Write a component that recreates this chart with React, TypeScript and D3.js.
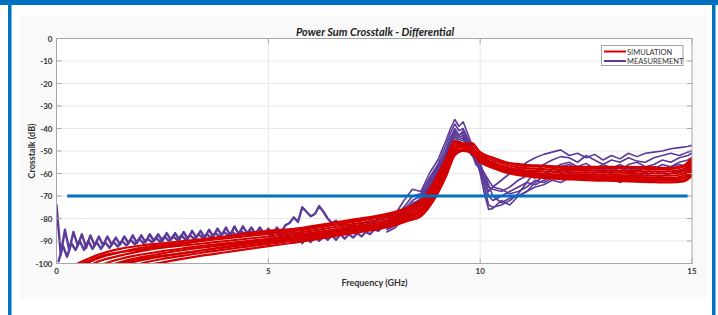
import React from "react";
import * as d3 from "d3";

// ---------------- DATA ----------------
const TITLE = "Power Sum Crosstalk - Differential";
const X_LABEL = "Frequency (GHz)";
const Y_LABEL = "Crosstalk (dB)";
const X_TICKS = [0, 5, 10, 15];
const Y_TICKS = [0, -10, -20, -30, -40, -50, -60, -70, -80, -90, -100];
const LIMIT_DB = -70;
const LIMIT_RANGE = [0.25, 14.9];
const LEGEND = ["SIMULATION", "MEASUREMENT"];

// Simulation (red) frequencies
const SIM_F = [0.5, 1, 1.5, 2, 2.5, 3, 3.5, 4, 4.5, 5, 5.5, 6, 6.5, 7, 7.5, 8, 8.3, 8.6, 8.9, 9.2, 9.4, 9.6, 9.8, 10, 10.3, 10.6, 11, 11.5, 12, 12.5, 13, 13.5, 14, 14.5, 14.8, 15];
const SIM_1 = [-100, -96, -93.5, -92, -91, -90, -89, -88, -87, -86, -85, -83.5, -82, -80.5, -79, -77, -75, -72, -65, -54, -46, -48, -47, -51, -53, -55, -56.5, -57, -57.5, -57.5, -57.5, -57.5, -58, -58, -57, -54];
const SIM_2 = [-102, -97.5, -95, -93, -91.8, -90.8, -89.8, -88.8, -87.8, -86.8, -85.8, -84.5, -83, -81.5, -80, -78, -76, -73, -66, -55, -47, -46.5, -49, -52, -54, -56, -57.5, -58, -58.5, -58.5, -58.7, -58.8, -59, -59, -58, -55];
const SIM_3 = [-104, -99, -96.5, -94.5, -93, -92, -91, -90, -89, -88, -86.8, -85.5, -84, -82.5, -81, -79, -77, -74, -67, -56, -48, -47.5, -48.5, -52.5, -55, -57, -58.5, -59, -59.5, -59.5, -59.5, -59.8, -60, -60, -59, -56];
const SIM_4 = [-106, -101, -98, -96, -94.5, -93.2, -92, -91, -90, -89, -87.8, -86.5, -85, -83.5, -82, -80, -78, -75, -68, -57, -49, -47, -50, -53, -55.5, -57.5, -59, -60, -60.5, -60.5, -60.5, -60.8, -61, -61, -60, -57];
const SIM_5 = [-108, -103, -99.5, -97.2, -95.5, -94, -92.8, -91.6, -90.5, -89.5, -88.5, -87.2, -85.8, -84.3, -82.8, -80.8, -78.8, -76, -69, -58, -50, -48, -49, -53.5, -56, -58, -59.5, -60.5, -61, -61.2, -61.3, -61.5, -61.8, -62, -61, -58];
const SIM_6 = [-110, -105, -101, -98.5, -96.8, -95.3, -94, -92.8, -91.6, -90.5, -89.3, -88, -86.5, -85, -83.5, -81.5, -79.5, -77, -70, -59, -50.5, -49, -48.5, -54, -56.5, -58.5, -60, -61, -61.5, -61.8, -62, -62.2, -62.5, -62.8, -62, -59];
const SIM_7 = [-112, -107, -103, -100, -98, -96.5, -95, -93.7, -92.5, -91.3, -90, -88.7, -87.2, -85.7, -84.2, -82.2, -80.3, -78, -71, -60, -51, -49.5, -50, -54.5, -57, -59, -60.5, -61.5, -62, -62.3, -62.5, -62.8, -63, -63.2, -63, -60];
const SIM_8 = [-114, -109, -105, -101.5, -99.5, -97.8, -96.3, -95, -93.6, -92.3, -91, -89.6, -88, -86.5, -85, -83, -81, -79, -72, -61, -52, -50, -51, -55, -57.5, -59.5, -61, -62, -62.5, -63, -63.2, -63.5, -63.8, -64, -63.5, -61];
const SIM_9 = [-101, -97, -95, -93.8, -92.5, -91.2, -89.5, -88, -86.5, -85.5, -84.8, -84, -82.8, -81.2, -79.5, -77.5, -75.5, -72.5, -64, -53, -45.5, -47, -46.5, -50.5, -53, -55, -56, -56.5, -57, -57, -57, -57, -57.2, -57.5, -56.5, -53];
const SIM_10 = [-109, -104, -100, -97.8, -96.5, -95.5, -94, -92.5, -91, -89.8, -88.8, -87.6, -86.2, -84.8, -83.2, -81, -79, -76.5, -69.5, -58.5, -49.5, -48, -50.5, -53, -56, -58, -59.8, -60.8, -61.3, -61.5, -61.8, -62, -62.3, -62.5, -62, -58];
const SIM_SERIES = [SIM_1, SIM_2, SIM_3, SIM_4, SIM_5, SIM_6, SIM_7, SIM_8, SIM_9, SIM_10];

// Measurement (purple) low-frequency part, 0..8 GHz every 0.1 GHz
const MEAS_LF_F = [0, 0.1, 0.2, 0.3, 0.4, 0.5, 0.6, 0.7, 0.8, 0.9, 1, 1.1, 1.2, 1.3, 1.4, 1.5, 1.6, 1.7, 1.8, 1.9, 2, 2.1, 2.2, 2.3, 2.4, 2.5, 2.6, 2.7, 2.8, 2.9, 3, 3.1, 3.2, 3.3, 3.4, 3.5, 3.6, 3.7, 3.8, 3.9, 4, 4.1, 4.2, 4.3, 4.4, 4.5, 4.6, 4.7, 4.8, 4.9, 5, 5.1, 5.2, 5.3, 5.4, 5.5, 5.6, 5.7, 5.8, 5.9, 6, 6.1, 6.2, 6.3, 6.4, 6.5, 6.6, 6.7, 6.8, 6.9, 7, 7.1, 7.2, 7.3, 7.4, 7.5, 7.6, 7.7, 7.8, 7.9, 8];
const MEAS_LF_A = [-74, -96, -85, -94, -86, -92, -87, -93, -87.5, -92, -88, -92, -88, -91.5, -88.5, -91.5, -88, -91, -87.5, -91, -87.5, -90.5, -87, -90, -87, -90, -86.5, -89.5, -86.5, -89.5, -86, -89, -85.5, -88.5, -85.5, -88.5, -85, -88, -84.5, -87.5, -84, -87.5, -83.5, -87, -83.5, -86.5, -84, -87, -84, -87, -84.5, -87.5, -84, -86.5, -83, -82, -79.5, -81.5, -75, -77, -79, -78, -74.5, -77, -80, -82, -81, -83.5, -82, -84, -82.5, -84, -82, -83, -81, -82, -80, -80.5, -78.5, -79, -77];
// second measurement trace, sampled half a step later (0.05..7.95 GHz)
const MEAS_LF_F2 = [0.05, 0.15, 0.25, 0.35, 0.45, 0.55, 0.65, 0.75, 0.85, 0.95, 1.05, 1.15, 1.25, 1.35, 1.45, 1.55, 1.65, 1.75, 1.85, 1.95, 2.05, 2.15, 2.25, 2.35, 2.45, 2.55, 2.65, 2.75, 2.85, 2.95, 3.05, 3.15, 3.25, 3.35, 3.45, 3.55, 3.65, 3.75, 3.85, 3.95, 4.05, 4.15, 4.25, 4.35, 4.45, 4.55, 4.65, 4.75, 4.85, 4.95, 5.05, 5.15, 5.25, 5.35, 5.45, 5.55, 5.65, 5.75, 5.85, 5.95, 6.05, 6.15, 6.25, 6.35, 6.45, 6.55, 6.65, 6.75, 6.85, 6.95, 7.05, 7.15, 7.25, 7.35, 7.45, 7.55, 7.65, 7.75, 7.85, 7.95];
const MEAS_LF_B = [-99, -92, -97, -91, -94, -90, -94, -90, -93.5, -90.5, -93.5, -90.5, -93, -90.5, -92.5, -90, -92, -89.5, -91.5, -89, -91, -89, -90.5, -88.5, -90.5, -88, -90, -88, -89.5, -87.5, -89.5, -87.5, -89, -87, -88.5, -87, -88.5, -86.5, -88, -86, -87.5, -86, -87.5, -85.5, -87, -85.5, -87, -85.5, -87, -85.5, -87.5, -85.5, -87, -86.5, -88, -86, -88.5, -86.5, -88, -86, -88, -86, -87.5, -86, -87.5, -85.5, -87, -85, -86.5, -85, -86, -84.5, -85.5, -84, -85, -83, -83.5, -82, -81.5, -80];
// lower measurement group, 5.0..8.2 GHz
const MEAS_LF_F3 = [5, 5.1, 5.2, 5.3, 5.4, 5.5, 5.6, 5.7, 5.8, 5.9, 6, 6.1, 6.2, 6.3, 6.4, 6.5, 6.6, 6.7, 6.8, 6.9, 7, 7.1, 7.2, 7.3, 7.4, 7.5, 7.6, 7.7, 7.8, 7.9, 8, 8.1, 8.2];
const MEAS_LF_C = [-89, -87, -90, -87.5, -90, -88, -90.5, -88, -91, -88.5, -90.5, -88, -90, -88, -89.5, -87.5, -89.5, -87, -89, -87, -88.5, -86.5, -88, -86, -87, -85, -85.5, -83.5, -84, -82, -80.5, -78, -75];

// Measurement (purple) high-frequency part
const MEAS_HF_F = [7.8, 8, 8.2, 8.4, 8.6, 8.8, 9, 9.2, 9.3, 9.4, 9.5, 9.6, 9.7, 9.8, 9.9, 10, 10.1, 10.2, 10.3, 10.5, 10.7, 10.9, 11.1, 11.3, 11.5, 11.7, 11.9, 12.1, 12.3, 12.5, 12.7, 12.9, 13.1, 13.3, 13.5, 13.7, 13.9, 14.1, 14.3, 14.5, 14.7, 14.9, 15];
const MEAS_1 = [-80, -78, -72, -67, -68, -60, -54, -45, -40, -36, -39, -37, -42, -47, -51, -55, -62, -68, -66, -63, -60, -58, -55, -53, -51.5, -50.5, -49.5, -52, -51, -53, -51.5, -54, -52, -53.5, -51, -52.5, -51, -50.5, -50, -49, -48.5, -48, -47.5];
const MEAS_2 = [-81, -79, -75, -70, -69, -62, -56, -47, -42, -38, -41, -40, -44, -48, -52, -57, -66, -74, -75, -74, -72, -69, -64, -59, -56, -54, -52.5, -53, -55, -52, -54, -56, -54, -55, -53, -54.5, -55, -53, -52, -51, -52, -50.5, -50];
const MEAS_3 = [-83, -80, -76, -72, -70, -64, -58, -49, -44, -40, -43, -42, -46, -49, -53, -60, -69, -76, -75.5, -72, -74, -70, -68, -64, -61, -58, -56, -55, -57, -55.5, -58, -56, -57.5, -59, -56, -55, -57, -56, -54, -55, -53, -52, -51];
const MEAS_4 = [-84, -82, -78, -74, -71, -65, -59, -51, -46, -42, -44, -43, -47, -50, -55, -58, -62, -66, -67, -68, -66, -63, -61, -62, -60, -58, -57, -56, -58, -59, -57, -60, -58, -56, -58, -59, -57, -58, -56, -57, -55, -54, -53];
const MEAS_5 = [-85, -83, -79, -75, -72, -66, -60, -52, -47, -43, -45, -44, -48, -51, -56, -58, -60, -63, -66, -67, -69, -68, -66, -63, -64, -62, -60, -59, -61, -60, -62, -61, -60, -62, -61, -60, -61, -59, -60, -58, -57, -56, -55];
const MEAS_6 = [-86, -84, -80, -76, -73, -67, -61, -53, -48, -44, -46, -45, -49, -52, -54, -59, -64, -70, -72, -70, -68, -66, -64, -65, -63, -61, -62, -60, -62, -63, -61, -63, -62, -64, -62, -61, -63, -62, -61, -60, -59, -58, -57];
const MEAS_7 = [-82, -81, -77, -73, -72, -63, -57, -50, -45, -41, -43, -41, -45, -50, -53, -56, -60, -65, -70, -73, -71, -70, -68, -66, -65, -63, -64, -62, -60, -61, -60, -58, -59, -57, -59, -58, -60, -57, -58, -57, -56, -57, -56];
const MEAS_HF_SERIES = [MEAS_1, MEAS_2, MEAS_3, MEAS_4, MEAS_5, MEAS_6, MEAS_7];

// ---------------- STYLE ----------------
const W = 718;
const H = 315;
const FRAME = "#0070c0";
const RED = "#d20000";
const PURPLE = "#5b3a98";
const AXIS = "#a6a6a6";
const GRID = "#e8e8e8";
const FONT = "Lato, 'Open Sans', sans-serif";

const M = { left: 56.5, right: 692, top: 38.5, bottom: 263.5 };

export default function App() {
  const x = d3.scaleLinear().domain([0, 15]).range([M.left, M.right]);
  const y = d3.scaleLinear().domain([-100, 0]).range([M.bottom, M.top]);
  const line = d3
    .line<[number, number]>()
    .x((d) => x(d[0]))
    .y((d) => y(d[1]))
    .curve(d3.curveMonotoneX);
  const lineLin = d3
    .line<[number, number]>()
    .x((d) => x(d[0]))
    .y((d) => y(d[1]));

  const zip = (f: number[], v: number[]) => f.map((fi, i) => [fi, v[i]] as [number, number]);

  return (
    <svg width={W} height={H} style={{ position: "absolute", left: 0, top: 0, display: "block" }}>
      <rect x={0} y={0} width={W} height={H} fill="#ffffff" />
      <rect x={20} y={16} width={686} height={283} fill="#f9f9f9" />
      {/* frame */}
      <rect x={0} y={0} width={W} height={5} fill={FRAME} />
      <rect x={8} y={0} width={3.5} height={H} fill={FRAME} />
      <rect x={712} y={0} width={3.5} height={H} fill={FRAME} />

      <defs>
        <clipPath id="plotclip">
          <rect x={M.left} y={M.top} width={M.right - M.left} height={M.bottom - M.top} />
        </clipPath>
      </defs>

      {/* plot background */}
      <rect x={M.left} y={M.top} width={M.right - M.left} height={M.bottom - M.top} fill="#ffffff" />

      {/* grid */}
      {Y_TICKS.filter((t) => t !== 0 && t !== -100).map((t) => (
        <line key={"gy" + t} x1={M.left} x2={M.right} y1={y(t)} y2={y(t)} stroke={GRID} strokeWidth={1} />
      ))}
      {X_TICKS.filter((t) => t !== 0 && t !== 15).map((t) => (
        <line key={"gx" + t} x1={x(t)} x2={x(t)} y1={M.top} y2={M.bottom} stroke={GRID} strokeWidth={1} />
      ))}

      <g clipPath="url(#plotclip)" fill="none" strokeLinejoin="round" strokeLinecap="round">
        {/* measurement */}
        <path d={lineLin(zip(MEAS_LF_F, MEAS_LF_A)) || ""} stroke={PURPLE} strokeWidth={2.4} />
        <path d={lineLin(zip(MEAS_LF_F2, MEAS_LF_B)) || ""} stroke={PURPLE} strokeWidth={2.4} />
        <path d={lineLin(zip(MEAS_LF_F3, MEAS_LF_C)) || ""} stroke={PURPLE} strokeWidth={2.2} />
        {MEAS_HF_SERIES.map((s, i) => (
          <path key={"m" + i} d={lineLin(zip(MEAS_HF_F, s)) || ""} stroke={PURPLE} strokeWidth={1.6} />
        ))}
        {/* simulation */}
        {SIM_SERIES.map((s, i) => (
          <path key={"s" + i} d={line(zip(SIM_F, s)) || ""} stroke={RED} strokeWidth={2.2} />
        ))}
      </g>

      {/* limit line */}
      <line
        x1={x(LIMIT_RANGE[0])}
        x2={x(LIMIT_RANGE[1])}
        y1={y(LIMIT_DB)}
        y2={y(LIMIT_DB)}
        stroke={FRAME}
        strokeWidth={3}
      />

      {/* axes box */}
      <rect x={M.left} y={M.top} width={M.right - M.left} height={M.bottom - M.top} fill="none" stroke={AXIS} strokeWidth={1} />
      {Y_TICKS.map((t) => (
        <g key={"yt" + t}>
          <line x1={M.left} x2={M.left + 5} y1={y(t)} y2={y(t)} stroke={AXIS} />
          <line x1={M.right - 5} x2={M.right} y1={y(t)} y2={y(t)} stroke={AXIS} />
          <text
            x={M.left - 4}
            y={y(t) + 3}
            textAnchor="end"
            fontFamily={FONT}
            fontSize={8}
            fontWeight="bold"
            fill="#333"
          >
            {t}
          </text>
        </g>
      ))}
      {X_TICKS.map((t) => (
        <g key={"xt" + t}>
          <line x1={x(t)} x2={x(t)} y1={M.bottom} y2={M.bottom - 5} stroke={AXIS} />
          <line x1={x(t)} x2={x(t)} y1={M.top} y2={M.top + 5} stroke={AXIS} />
          <text x={x(t)} y={M.bottom + 10} textAnchor="middle" fontFamily={FONT} fontSize={8} fontWeight="bold" fill="#333">
            {t}
          </text>
        </g>
      ))}

      {/* labels */}
      <text x={375} y={36} textAnchor="middle" fontFamily={FONT} fontSize={11} fontWeight="bold" fontStyle="italic" fill="#222">
        {TITLE}
      </text>
      <text x={374.5} y={286} textAnchor="middle" fontFamily={FONT} fontSize={9} fontWeight="bold" fill="#333">
        {X_LABEL}
      </text>
      <text
        transform={`translate(35, 151) rotate(-90)`}
        textAnchor="middle"
        fontFamily={FONT}
        fontSize={9}
        fontWeight="bold"
        fill="#333"
      >
        {Y_LABEL}
      </text>

      {/* legend */}
      <g>
        <rect x={601.5} y={45.5} width={81.5} height={20} fill="#ffffff" stroke="#8c8c8c" strokeWidth={0.8} />
        <line x1={604} x2={626} y1={51.5} y2={51.5} stroke={RED} strokeWidth={2} />
        <line x1={604} x2={626} y1={61} y2={61} stroke={PURPLE} strokeWidth={2} />
        <text x={627} y={54.5} fontFamily={FONT} fontSize={7.5} fill="#333">
          {LEGEND[0]}
        </text>
        <text x={627} y={64} fontFamily={FONT} fontSize={7.5} fill="#333">
          {LEGEND[1]}
        </text>
      </g>
    </svg>
  );
}
